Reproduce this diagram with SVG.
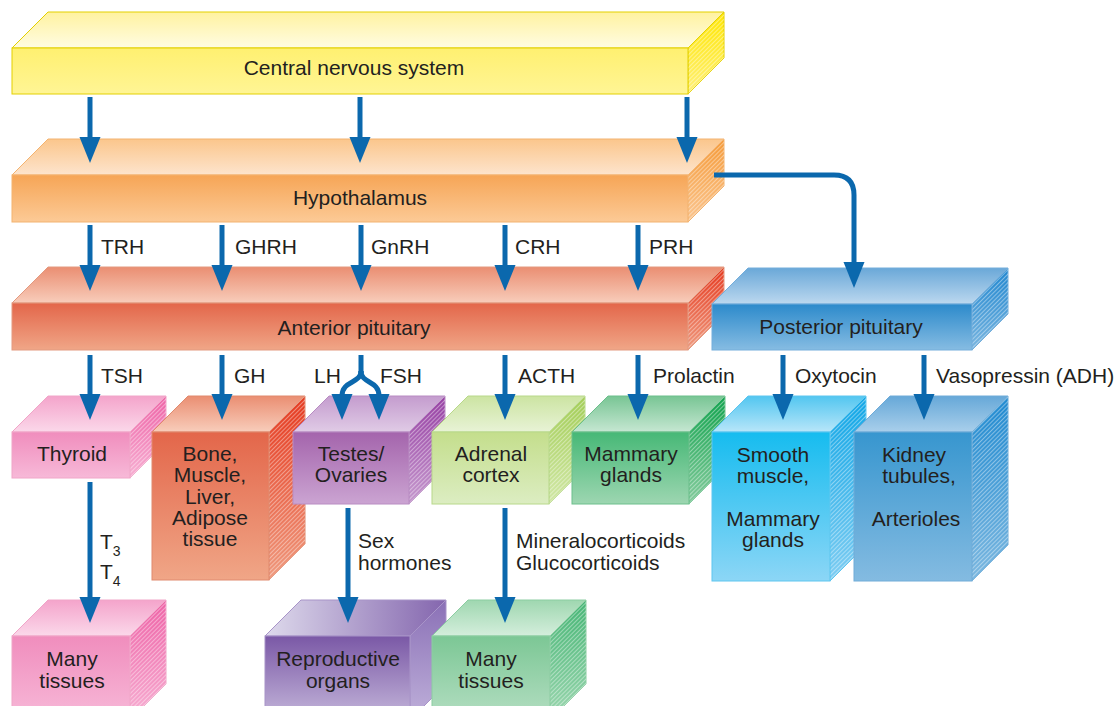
<svg xmlns="http://www.w3.org/2000/svg" width="1118" height="706" viewBox="0 0 1118 706">
<defs>
<style>
text{font-family:"Liberation Sans",Arial,Helvetica,sans-serif;font-size:21px;fill:#231f20}
.c{text-anchor:middle}
.conn{fill:none;stroke:#0b68ad;stroke-width:5}
.h{fill:url(#hatch)}
</style>
<pattern id="hatch" width="3" height="3" patternUnits="userSpaceOnUse" patternTransform="rotate(-45)"><rect width="3" height="1" fill="#fff" opacity="0.4"/></pattern>
<marker id="ah" markerUnits="userSpaceOnUse" markerWidth="28" markerHeight="22" refX="2" refY="10.5" orient="auto"><path d="M0,0 L26,10.5 L0,21 Z" fill="#0b68ad"/></marker>
<linearGradient id="yF" x1="0" y1="0" x2="0" y2="1"><stop offset="0" stop-color="#fff070"/><stop offset="1" stop-color="#fff595"/></linearGradient>
<linearGradient id="yT" x1="0" y1="0" x2="0" y2="1"><stop offset="0" stop-color="#fff2a0"/><stop offset="1" stop-color="#fffce2"/></linearGradient>
<linearGradient id="yS" x1="0" y1="0" x2="0" y2="1"><stop offset="0" stop-color="#ffe600"/><stop offset="1" stop-color="#fff07a"/></linearGradient>
<linearGradient id="oF" x1="0" y1="0" x2="0" y2="1"><stop offset="0" stop-color="#f6a556"/><stop offset="1" stop-color="#fcca96"/></linearGradient>
<linearGradient id="oT" x1="0" y1="0" x2="0" y2="1"><stop offset="0" stop-color="#fbc68c"/><stop offset="1" stop-color="#fde4cd"/></linearGradient>
<linearGradient id="oS" x1="0" y1="0" x2="0" y2="1"><stop offset="0" stop-color="#f59a38"/><stop offset="1" stop-color="#fbc690"/></linearGradient>
<linearGradient id="rF" x1="0" y1="0" x2="0" y2="1"><stop offset="0" stop-color="#e3664a"/><stop offset="1" stop-color="#f0a687"/></linearGradient>
<linearGradient id="rT" x1="0" y1="0" x2="0" y2="1"><stop offset="0" stop-color="#ea8e72"/><stop offset="1" stop-color="#f8cdbb"/></linearGradient>
<linearGradient id="rS" x1="0" y1="0" x2="0" y2="1"><stop offset="0" stop-color="#e5391f"/><stop offset="1" stop-color="#ef9a7e"/></linearGradient>
<linearGradient id="bF" x1="0" y1="0" x2="0" y2="1"><stop offset="0" stop-color="#2c8acb"/><stop offset="1" stop-color="#86bce2"/></linearGradient>
<linearGradient id="bT" x1="0" y1="0" x2="0" y2="1"><stop offset="0" stop-color="#6aa8d8"/><stop offset="1" stop-color="#bcd8ef"/></linearGradient>
<linearGradient id="bS" x1="0" y1="0" x2="0" y2="1"><stop offset="0" stop-color="#1f86cf"/><stop offset="1" stop-color="#7ab6e0"/></linearGradient>
<linearGradient id="pF" x1="0" y1="0" x2="0" y2="1"><stop offset="0" stop-color="#f08dbd"/><stop offset="1" stop-color="#f7b9d8"/></linearGradient>
<linearGradient id="pT" x1="0" y1="0" x2="0" y2="1"><stop offset="0" stop-color="#f4a4cb"/><stop offset="1" stop-color="#fbd8ea"/></linearGradient>
<linearGradient id="pS" x1="0" y1="0" x2="0" y2="1"><stop offset="0" stop-color="#ee62a6"/><stop offset="1" stop-color="#f7b0d3"/></linearGradient>
<linearGradient id="vF" x1="0" y1="0" x2="0" y2="1"><stop offset="0" stop-color="#a464ac"/><stop offset="1" stop-color="#cba4d2"/></linearGradient>
<linearGradient id="vT" x1="0" y1="0" x2="0" y2="1"><stop offset="0" stop-color="#c49cce"/><stop offset="1" stop-color="#e0cbe6"/></linearGradient>
<linearGradient id="vS" x1="0" y1="0" x2="0" y2="1"><stop offset="0" stop-color="#963fa3"/><stop offset="1" stop-color="#c69ace"/></linearGradient>
<linearGradient id="lF" x1="0" y1="0" x2="0" y2="1"><stop offset="0" stop-color="#c4de8c"/><stop offset="1" stop-color="#dcedc2"/></linearGradient>
<linearGradient id="lT" x1="0" y1="0" x2="0" y2="1"><stop offset="0" stop-color="#cce4a2"/><stop offset="1" stop-color="#e8f3d6"/></linearGradient>
<linearGradient id="lS" x1="0" y1="0" x2="0" y2="1"><stop offset="0" stop-color="#a2cd55"/><stop offset="1" stop-color="#d2e8a8"/></linearGradient>
<linearGradient id="gF" x1="0" y1="0" x2="0" y2="1"><stop offset="0" stop-color="#46b876"/><stop offset="1" stop-color="#9dd6b1"/></linearGradient>
<linearGradient id="gT" x1="0" y1="0" x2="0" y2="1"><stop offset="0" stop-color="#78c594"/><stop offset="1" stop-color="#c6e7d2"/></linearGradient>
<linearGradient id="gS" x1="0" y1="0" x2="0" y2="1"><stop offset="0" stop-color="#0fa24c"/><stop offset="1" stop-color="#86cc9e"/></linearGradient>
<linearGradient id="cF" x1="0" y1="0" x2="0" y2="1"><stop offset="0" stop-color="#16bcef"/><stop offset="1" stop-color="#8cd6f6"/></linearGradient>
<linearGradient id="cT" x1="0" y1="0" x2="0" y2="1"><stop offset="0" stop-color="#52c6f0"/><stop offset="1" stop-color="#b8e6f9"/></linearGradient>
<linearGradient id="cS" x1="0" y1="0" x2="0" y2="1"><stop offset="0" stop-color="#10a6e6"/><stop offset="1" stop-color="#7fcdf2"/></linearGradient>
<linearGradient id="kF" x1="0" y1="0" x2="0" y2="1"><stop offset="0" stop-color="#3796cf"/><stop offset="1" stop-color="#84bbe1"/></linearGradient>
<linearGradient id="kT" x1="0" y1="0" x2="0" y2="1"><stop offset="0" stop-color="#66a8d8"/><stop offset="1" stop-color="#a9cfeb"/></linearGradient>
<linearGradient id="kS" x1="0" y1="0" x2="0" y2="1"><stop offset="0" stop-color="#208ad0"/><stop offset="1" stop-color="#7db8e0"/></linearGradient>
<linearGradient id="qF" x1="0" y1="0" x2="0" y2="1"><stop offset="0" stop-color="#7a58a6"/><stop offset="1" stop-color="#c4b6da"/></linearGradient>
<linearGradient id="qT" x1="0" y1="0" x2="1" y2="0"><stop offset="0" stop-color="#dedaec"/><stop offset="1" stop-color="#8466ae"/></linearGradient>
<linearGradient id="qS" x1="0" y1="0" x2="0" y2="1"><stop offset="0" stop-color="#8a70b6"/><stop offset="1" stop-color="#bfb0da"/></linearGradient>
<linearGradient id="mF" x1="0" y1="0" x2="0" y2="1"><stop offset="0" stop-color="#7cc795"/><stop offset="1" stop-color="#b4dec2"/></linearGradient>
<linearGradient id="mT" x1="0" y1="0" x2="0" y2="1"><stop offset="0" stop-color="#9fd7b0"/><stop offset="1" stop-color="#d4eedc"/></linearGradient>
<linearGradient id="mS" x1="0" y1="0" x2="0" y2="1"><stop offset="0" stop-color="#45b574"/><stop offset="1" stop-color="#9dd7b0"/></linearGradient>
</defs>
<rect width="1118" height="706" fill="#fff"/>

<g id="cns" stroke="#e3d000" stroke-width="1">
<path d="M12,48 L48,12 L724,12 L688,48 Z" fill="url(#yT)"/>
<path d="M688,48 L724,12 L724,58 L688,94 Z" fill="url(#yS)"/>
<path class="h" d="M688,48 L724,12 L724,58 L688,94 Z" stroke="none"/>
<rect x="12" y="48" width="676" height="46" fill="url(#yF)"/>
<text class="c" x="354" y="75" stroke="none">Central nervous system</text>
</g>

<g id="hypothalamus" stroke="#f3b370" stroke-width="1">
<path d="M12,175 L48,139 L724,139 L688,175 Z" fill="url(#oT)"/>
<path d="M688,175 L724,139 L724,186 L688,222 Z" fill="url(#oS)"/>
<path class="h" d="M688,175 L724,139 L724,186 L688,222 Z" stroke="none"/>
<rect x="12" y="175" width="676" height="47" fill="url(#oF)"/>
<text class="c" x="360" y="205" stroke="none">Hypothalamus</text>
</g>

<g id="anterior-pituitary" stroke="#e39a80" stroke-width="1">
<path d="M12,303 L48,267 L724,267 L688,303 Z" fill="url(#rT)"/>
<path d="M688,303 L724,267 L724,314 L688,350 Z" fill="url(#rS)"/>
<path class="h" d="M688,303 L724,267 L724,314 L688,350 Z" stroke="none"/>
<rect x="12" y="303" width="676" height="47" fill="url(#rF)"/>
<text class="c" x="354" y="335" stroke="none">Anterior pituitary</text>
</g>

<g id="posterior-pituitary" stroke="#74aedb" stroke-width="1">
<path d="M712,304 L748,268 L1008,268 L972,304 Z" fill="url(#bT)"/>
<path d="M972,304 L1008,268 L1008,314 L972,350 Z" fill="url(#bS)"/>
<path class="h" d="M972,304 L1008,268 L1008,314 L972,350 Z" stroke="none"/>
<rect x="712" y="304" width="260" height="46" fill="url(#bF)"/>
<text class="c" x="841" y="334" stroke="none">Posterior pituitary</text>
</g>

<g id="thyroid" stroke="#f0a6c8" stroke-width="1">
<path d="M12,432 L48,396 L166,396 L130,432 Z" fill="url(#pT)"/>
<path d="M130,432 L166,396 L166,442 L130,478 Z" fill="url(#pS)"/>
<path class="h" d="M130,432 L166,396 L166,442 L130,478 Z" stroke="none"/>
<rect x="12" y="432" width="118" height="46" fill="url(#pF)"/>
<text class="c" x="72" y="461" stroke="none">Thyroid</text>
</g>

<g id="bone" stroke="#e08a6e" stroke-width="1">
<path d="M152,432 L188,396 L305,396 L269,432 Z" fill="url(#rT)"/>
<path d="M269,432 L305,396 L305,544 L269,580 Z" fill="url(#rS)"/>
<path class="h" d="M269,432 L305,396 L305,544 L269,580 Z" stroke="none"/>
<rect x="152" y="432" width="117" height="148" fill="url(#rF)"/>
<text class="c" x="210" y="461" stroke="none">Bone,</text>
<text class="c" x="210" y="482" stroke="none">Muscle,</text>
<text class="c" x="210" y="504" stroke="none">Liver,</text>
<text class="c" x="210" y="525" stroke="none">Adipose</text>
<text class="c" x="210" y="546" stroke="none">tissue</text>
</g>

<g id="testes-ovaries" stroke="#b88cc2" stroke-width="1">
<path d="M293,432 L329,396 L445,396 L409,432 Z" fill="url(#vT)"/>
<path d="M409,432 L445,396 L445,468 L409,504 Z" fill="url(#vS)"/>
<path class="h" d="M409,432 L445,396 L445,468 L409,504 Z" stroke="none"/>
<rect x="293" y="432" width="116" height="72" fill="url(#vF)"/>
<text class="c" x="351" y="461" stroke="none">Testes/</text>
<text class="c" x="351" y="482" stroke="none">Ovaries</text>
</g>

<g id="adrenal-cortex" stroke="#b8d88a" stroke-width="1">
<path d="M432,432 L468,396 L585,396 L549,432 Z" fill="url(#lT)"/>
<path d="M549,432 L585,396 L585,468 L549,504 Z" fill="url(#lS)"/>
<path class="h" d="M549,432 L585,396 L585,468 L549,504 Z" stroke="none"/>
<rect x="432" y="432" width="117" height="72" fill="url(#lF)"/>
<text class="c" x="491" y="461" stroke="none">Adrenal</text>
<text class="c" x="491" y="482" stroke="none">cortex</text>
</g>

<g id="mammary-glands" stroke="#6cbf8c" stroke-width="1">
<path d="M572,432 L608,396 L725,396 L689,432 Z" fill="url(#gT)"/>
<path d="M689,432 L725,396 L725,468 L689,504 Z" fill="url(#gS)"/>
<path class="h" d="M689,432 L725,396 L725,468 L689,504 Z" stroke="none"/>
<rect x="572" y="432" width="117" height="72" fill="url(#gF)"/>
<text class="c" x="631" y="461" stroke="none">Mammary</text>
<text class="c" x="631" y="482" stroke="none">glands</text>
</g>

<g id="smooth-muscle" stroke="#5ec6ef" stroke-width="1">
<path d="M712,432 L748,396 L866,396 L830,432 Z" fill="url(#cT)"/>
<path d="M830,432 L866,396 L866,545 L830,581 Z" fill="url(#cS)"/>
<path class="h" d="M830,432 L866,396 L866,545 L830,581 Z" stroke="none"/>
<rect x="712" y="432" width="118" height="149" fill="url(#cF)"/>
<text class="c" x="773" y="462" stroke="none">Smooth</text>
<text class="c" x="773" y="483" stroke="none">muscle,</text>
<text class="c" x="773" y="526" stroke="none">Mammary</text>
<text class="c" x="773" y="547" stroke="none">glands</text>
</g>

<g id="kidney-tubules" stroke="#70acd8" stroke-width="1">
<path d="M854,432 L890,396 L1008,396 L972,432 Z" fill="url(#kT)"/>
<path d="M972,432 L1008,396 L1008,545 L972,581 Z" fill="url(#kS)"/>
<path class="h" d="M972,432 L1008,396 L1008,545 L972,581 Z" stroke="none"/>
<rect x="854" y="432" width="118" height="149" fill="url(#kF)"/>
<text class="c" x="914" y="462" stroke="none">Kidney</text>
<text class="c" x="919" y="483" stroke="none">tubules,</text>
<text class="c" x="916" y="526" stroke="none">Arterioles</text>
</g>

<g id="many-tissues-thyroid" stroke="#f0a6c8" stroke-width="1">
<path d="M12,636 L48,600 L166,600 L130,636 Z" fill="url(#pT)"/>
<path d="M130,636 L166,600 L166,684 L130,720 Z" fill="url(#pS)"/>
<path class="h" d="M130,636 L166,600 L166,684 L130,720 Z" stroke="none"/>
<rect x="12" y="636" width="118" height="84" fill="url(#pF)"/>
<text class="c" x="72" y="666" stroke="none">Many</text>
<text class="c" x="72" y="688" stroke="none">tissues</text>
</g>

<g id="reproductive-organs" stroke="#a894c8" stroke-width="1">
<path d="M265,636 L301,600 L446,600 L410,636 Z" fill="url(#qT)"/>
<path d="M410,636 L446,600 L446,684 L410,720 Z" fill="url(#qS)"/>
<rect x="265" y="636" width="145" height="84" fill="url(#qF)"/>
<text class="c" x="338" y="666" stroke="none">Reproductive</text>
<text class="c" x="338" y="688" stroke="none">organs</text>
</g>

<g id="many-tissues-adrenal" stroke="#8ccda2" stroke-width="1">
<path d="M432,636 L468,600 L586,600 L550,636 Z" fill="url(#mT)"/>
<path d="M550,636 L586,600 L586,684 L550,720 Z" fill="url(#mS)"/>
<path class="h" d="M550,636 L586,600 L586,684 L550,720 Z" stroke="none"/>
<rect x="432" y="636" width="118" height="84" fill="url(#mF)"/>
<text class="c" x="491" y="666" stroke="none">Many</text>
<text class="c" x="491" y="688" stroke="none">tissues</text>
</g>

<g id="connectors">
<path class="conn" marker-end="url(#ah)" d="M90,97 V139"/>
<path class="conn" marker-end="url(#ah)" d="M360,97 V139"/>
<path class="conn" marker-end="url(#ah)" d="M687,97 V139"/>
<path class="conn" marker-end="url(#ah)" d="M90,225 V267"/>
<path class="conn" marker-end="url(#ah)" d="M222,225 V267"/>
<path class="conn" marker-end="url(#ah)" d="M361,225 V267"/>
<path class="conn" marker-end="url(#ah)" d="M505,225 V267"/>
<path class="conn" marker-end="url(#ah)" d="M638,225 V267"/>
<path class="conn" marker-end="url(#ah)" d="M714,175 H834 Q854,175 854,195 V264"/>
<path class="conn" marker-end="url(#ah)" d="M90,355 V396"/>
<path class="conn" marker-end="url(#ah)" d="M222,355 V396"/>
<path class="conn" d="M361,355 V373"/>
<path class="conn" marker-end="url(#ah)" d="M361,371 C361,384 342,380 342,396"/>
<path class="conn" marker-end="url(#ah)" d="M361,371 C361,384 379,380 379,396"/>
<path class="conn" marker-end="url(#ah)" d="M505,355 V396"/>
<path class="conn" marker-end="url(#ah)" d="M638,355 V396"/>
<path class="conn" marker-end="url(#ah)" d="M783,355 V396"/>
<path class="conn" marker-end="url(#ah)" d="M924,355 V396"/>
<path class="conn" marker-end="url(#ah)" d="M90,482 V599"/>
<path class="conn" marker-end="url(#ah)" d="M348,508 V599"/>
<path class="conn" marker-end="url(#ah)" d="M505,508 V599"/>
</g>

<g id="labels">
<text x="101" y="254">TRH</text>
<text x="235" y="254">GHRH</text>
<text x="371" y="254">GnRH</text>
<text x="515" y="254">CRH</text>
<text x="649" y="254">PRH</text>
<text x="101" y="383">TSH</text>
<text x="234" y="383">GH</text>
<text x="314" y="383">LH</text>
<text x="380" y="383">FSH</text>
<text x="518" y="383">ACTH</text>
<text x="653" y="383">Prolactin</text>
<text x="795" y="383">Oxytocin</text>
<text x="936" y="383">Vasopressin (ADH)</text>
<text x="100" y="549">T<tspan font-size="14" dy="7">3</tspan></text>
<text x="100" y="579">T<tspan font-size="14" dy="7">4</tspan></text>
<text x="358" y="548">Sex</text>
<text x="358" y="570">hormones</text>
<text x="516" y="548">Mineralocorticoids</text>
<text x="516" y="570">Glucocorticoids</text>
</g>
</svg>
